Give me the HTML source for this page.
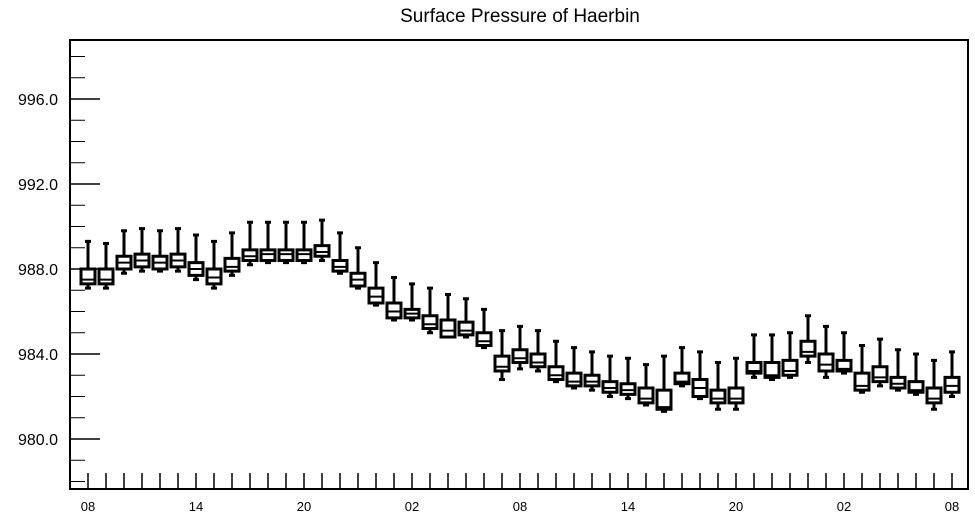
<!DOCTYPE html>
<html><head><meta charset="utf-8"><style>
html,body{margin:0;padding:0;background:#fff;}
svg{display:block;font-family:"Liberation Sans",Arial,sans-serif;}
</style></head><body>
<svg id="chart" width="975" height="518" viewBox="0 0 975 518" xmlns="http://www.w3.org/2000/svg">
<text x="520" y="22" text-anchor="middle" font-size="19">Surface Pressure of Haerbin</text>
<rect x="70" y="40" width="898" height="449" fill="none" stroke="#000" stroke-width="2"/>
<g id="axes"></g>
<g id="marks"></g>
</svg>
<script>
const xLabels = ["08","14","20","02","08","14","20","02","08"];
const yTicks = [980,984,988,992,996];
const maxV = [989.3,989.2,989.8,989.9,989.8,989.9,989.6,989.3,989.7,990.2,990.2,990.2,990.2,990.3,989.7,989.0,988.3,987.6,987.3,987.1,986.8,986.6,986.1,985.1,985.3,985.1,984.6,984.3,984.1,983.9,983.8,983.5,983.9,984.3,984.1,983.6,983.8,984.9,984.9,985.0,985.8,985.3,985.0,984.4,984.7,984.2,984.0,983.7,984.1];
const q3V = [988.0,988.0,988.6,988.7,988.6,988.7,988.3,988.0,988.5,988.9,988.9,988.9,988.9,989.1,988.4,987.8,987.1,986.4,986.1,985.8,985.6,985.5,985.0,983.9,984.2,984.0,983.4,983.1,983.0,982.7,982.6,982.4,982.3,983.1,982.8,982.3,982.4,983.6,983.6,983.7,984.6,984.0,983.7,983.1,983.4,982.9,982.7,982.4,982.9];
const medV = [987.5,987.5,988.3,988.4,988.3,988.4,988.0,987.6,988.1,988.6,988.7,988.7,988.7,988.8,988.1,987.5,986.7,986.0,985.9,985.4,985.1,985.1,984.6,983.4,983.8,983.6,983.0,982.7,982.7,982.4,982.3,981.9,981.5,982.7,982.4,981.9,981.9,983.2,983.0,983.2,984.1,983.5,983.3,982.5,982.9,982.6,982.3,981.9,982.5];
const q1V = [987.3,987.3,988.0,988.1,988.0,988.1,987.7,987.3,987.9,988.4,988.4,988.4,988.4,988.6,987.9,987.2,986.4,985.7,985.7,985.2,984.8,984.9,984.4,983.2,983.6,983.4,982.8,982.5,982.5,982.2,982.1,981.7,981.4,982.6,982.0,981.7,981.7,983.1,982.9,983.0,983.9,983.2,983.2,982.3,982.7,982.4,982.2,981.7,982.2];
const minV = [987.1,987.1,987.8,987.9,987.9,987.9,987.5,987.1,987.7,988.2,988.3,988.3,988.3,988.4,987.8,987.1,986.3,985.6,985.6,985.0,984.8,984.8,984.3,982.8,983.3,983.2,982.7,982.4,982.3,982.0,981.9,981.6,981.3,982.5,981.9,981.4,981.4,982.9,982.8,982.9,983.6,982.9,983.1,982.2,982.5,982.3,982.1,981.4,982.0];

const NS="http://www.w3.org/2000/svg";
const X0=70,X1=968,Y0=40,Y1=489;
const yScale=v=>439-(v-980)*21.25;
const xScale=i=>88+i*18;
function mk(tag,attrs,parent){const e=document.createElementNS(NS,tag);for(const k in attrs)e.setAttribute(k,attrs[k]);parent.appendChild(e);return e;}
const axes=document.getElementById('axes');
const marks=document.getElementById('marks');
// y ticks
for(let v=978;v<=998;v++){
  const y=yScale(v); if(y<Y0||y>Y1)continue;
  const major=v%4===0;
  const t=mk('line',{x1:X0,x2:X0+(major?30:15),y1:y,y2:y,stroke:'#000','stroke-width':major?1.5:1},axes);
  
  
}
yTicks.forEach(v=>{
  const t=mk('text',{x:58,y:yScale(v)+6,'text-anchor':'end','font-size':16},axes);
  t.textContent=v.toFixed(1);
  
  
});
// x ticks
for(let i=0;i<maxV.length;i++){
  const t=mk('line',{x1:xScale(i),x2:xScale(i),y1:Y1,y2:Y1-16,stroke:'#000','stroke-width':1.5},axes);
  
  
}
xLabels.forEach((s,k)=>{
  const t=mk('text',{x:xScale(k*6),y:511,'text-anchor':'middle','font-size':13},axes);
  t.textContent=s;
  
  
});
// boxes
for(let i=0;i<maxV.length;i++){
  const x=xScale(i);
  const g=mk('g',{},marks);
  
  
  mk('line',{x1:x,x2:x,y1:yScale(maxV[i]),y2:yScale(q3V[i]),stroke:'#000','stroke-width':3},g);
  mk('line',{x1:x-3,x2:x+3,y1:yScale(maxV[i]),y2:yScale(maxV[i]),stroke:'#000','stroke-width':3},g);
  mk('line',{x1:x,x2:x,y1:yScale(q1V[i]),y2:yScale(minV[i]),stroke:'#000','stroke-width':3},g);
  mk('line',{x1:x-3,x2:x+3,y1:yScale(minV[i]),y2:yScale(minV[i]),stroke:'#000','stroke-width':3},g);
  const yt=yScale(q3V[i]),yb=yScale(q1V[i]);
  mk('rect',{x:x-7,y:yt,width:14,height:Math.max(yb-yt,1),fill:'#fff',stroke:'#000','stroke-width':3},g);
  mk('line',{x1:x-7,x2:x+7,y1:yScale(medV[i]),y2:yScale(medV[i]),stroke:'#000','stroke-width':2},g);
}
</script>
</body></html>
